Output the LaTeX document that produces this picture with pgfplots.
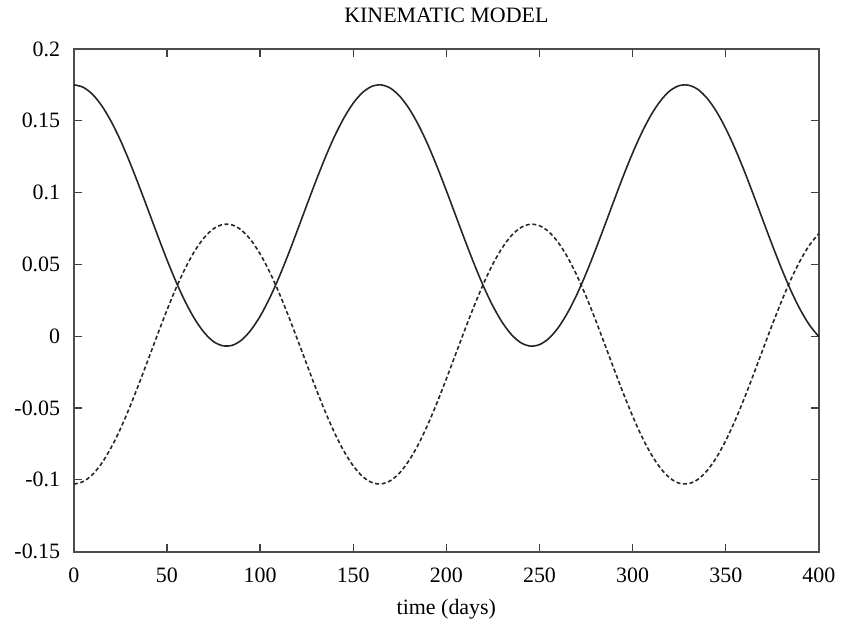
\documentclass[border=0pt]{standalone}
\usepackage{fontspec}
\setmainfont{Liberation Serif}
\usepackage{pgfplots}
\usepackage{pgfplotstable}
\pgfplotsset{compat=1.18}

% t (days), solid curve, dashed curve
\pgfplotstableread{
t y1 y2
0 0.1750 -0.1030
5 0.1733 -0.1013
10 0.1684 -0.0964
15 0.1604 -0.0885
20 0.1496 -0.0777
25 0.1364 -0.0646
30 0.1212 -0.0495
35 0.1047 -0.0331
40 0.0875 -0.0160
45 0.0701 0.0013
50 0.0532 0.0181
55 0.0375 0.0338
60 0.0235 0.0477
65 0.0117 0.0595
70 0.0025 0.0686
75 -0.0038 0.0748
80 -0.0067 0.0777
85 -0.0064 0.0774
90 -0.0028 0.0738
95 0.0041 0.0670
100 0.0138 0.0573
105 0.0261 0.0451
110 0.0405 0.0307
115 0.0565 0.0148
120 0.0736 -0.0021
125 0.0910 -0.0194
130 0.1081 -0.0365
135 0.1244 -0.0527
140 0.1392 -0.0674
145 0.1519 -0.0801
150 0.1622 -0.0903
155 0.1696 -0.0977
160 0.1739 -0.1019
165 0.1749 -0.1029
170 0.1726 -0.1006
175 0.1670 -0.0951
180 0.1584 -0.0865
185 0.1471 -0.0753
190 0.1335 -0.0617
195 0.1180 -0.0463
200 0.1013 -0.0297
205 0.0840 -0.0125
210 0.0667 0.0047
215 0.0500 0.0213
220 0.0345 0.0367
225 0.0209 0.0503
230 0.0096 0.0615
235 0.0010 0.0701
240 -0.0046 0.0756
245 -0.0069 0.0779
250 -0.0059 0.0769
255 -0.0016 0.0727
260 0.0058 0.0653
265 0.0161 0.0551
270 0.0288 0.0424
275 0.0436 0.0277
280 0.0599 0.0115
285 0.0770 -0.0056
290 0.0944 -0.0229
295 0.1115 -0.0398
300 0.1275 -0.0557
305 0.1419 -0.0701
310 0.1542 -0.0823
315 0.1639 -0.0920
320 0.1708 -0.0988
325 0.1744 -0.1024
330 0.1747 -0.1027
335 0.1718 -0.0998
340 0.1656 -0.0936
345 0.1564 -0.0845
350 0.1445 -0.0727
355 0.1305 -0.0588
360 0.1148 -0.0431
365 0.0979 -0.0263
370 0.0805 -0.0090
375 0.0633 0.0081
380 0.0468 0.0245
385 0.0316 0.0396
390 0.0184 0.0527
395 0.0076 0.0635
400 -0.0004 0.0714
}\kinematic

\begin{document}
\begin{tikzpicture}
\begin{axis}[
    name=ax,
    scale only axis,
    width=373.5pt,
    height=252pt,
    xmin=0, xmax=400,
    ymin=-0.15, ymax=0.2,
    xtick={0,50,...,400},
    xticklabels={0,50,100,150,200,250,300,350,400},
    ytick={-0.15,-0.1,-0.05,0,0.05,0.1,0.15,0.2},
    yticklabels={-0.15,-0.1,-0.05,0,0.05,0.1,0.15,0.2},
    tick align=inside,
    major tick length=4pt,
    tick style={black!75, line width=0.6pt},
    axis line style={black!70, line width=1pt},
    font=\fontsize{11}{13}\selectfont,
    x tick label style={yshift=-4.5pt},
    y tick label style={xshift=-3.3pt},
    title={KINEMATIC MODEL},
    title style={at={(0.5,1)}, anchor=base, yshift=7pt, inner sep=0pt},
    xlabel={time (days)},
    xlabel style={at={(axis description cs:0.5,0)}, anchor=base, yshift=-31.5pt, inner sep=0pt},
    clip=false,
]
\addplot[black!85, line width=0.8pt, smooth] table[x=t, y=y1] {\kinematic};
\addplot[black!85, line width=0.8pt, smooth, dash pattern=on 2pt off 1.3pt] table[x=t, y=y2] {\kinematic};
\end{axis}
\path ([xshift=-37pt,yshift=-38.5pt]ax.south west) rectangle ([xshift=10.5pt,yshift=24.5pt]ax.north east);
\end{tikzpicture}
\end{document}
